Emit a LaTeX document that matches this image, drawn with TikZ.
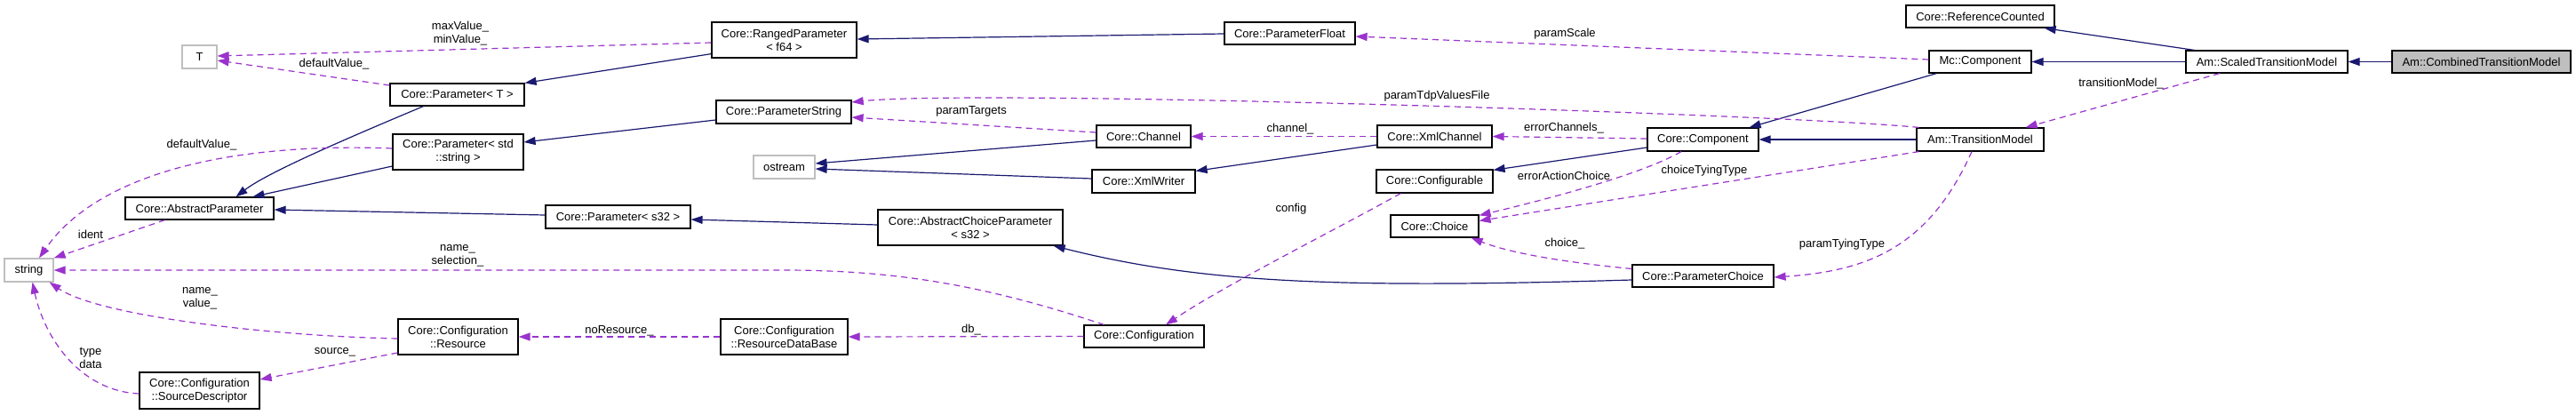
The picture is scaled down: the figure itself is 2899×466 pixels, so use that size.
\documentclass[tikz,border=0pt]{standalone}
\usepackage{fontspec}
\setmainfont{Liberation Sans}
\usetikzlibrary{arrows.meta}
\definecolor{navyedge}{HTML}{191970}
\definecolor{orchidedge}{HTML}{9A32CD}
\definecolor{greybox}{HTML}{BFBFBF}
\newcommand\dxfont{\fontsize{13}{15}\selectfont}
\tikzset{
  cls/.style={draw=black, line width=1.2pt, fill=white, inner sep=0pt, align=center, font=\dxfont},
  ext/.style={cls, draw=greybox},
  inh/.style={draw=navyedge, line width=1.2pt, -{Triangle[length=13pt,width=9pt]}},
  use/.style={draw=orchidedge, line width=1.2pt, dash pattern=on 7pt off 5pt, -{Triangle[length=13pt,width=9pt]}},
  elbl/.style={font=\dxfont, align=center, inner sep=0pt},
}
\begin{document}
\begin{tikzpicture}[x=1pt,y=-1pt]
\useasboundingbox (0,0) rectangle (2899,466);
% nodes
\node[ext, minimum width=39pt, minimum height=26pt] (T) at (224.5,64) {T};
\node[cls, minimum width=163pt, minimum height=40pt] (RP) at (882.5,45) {Core::RangedParameter\\< f64 >};
\node[cls, minimum width=151pt, minimum height=25pt] (PT) at (514.5,106.5) {Core::Parameter< T >};
\node[cls, minimum width=147pt, minimum height=40pt] (PS) at (515.5,171) {Core::Parameter< std\\::string >};
\node[cls, minimum width=167pt, minimum height=25pt] (AP) at (224.5,234.5) {Core::AbstractParameter};
\node[cls, minimum width=163pt, minimum height=26pt] (P32) at (695.5,244) {Core::Parameter< s32 >};
\node[ext, minimum width=55pt, minimum height=26pt] (str) at (32.5,304) {string};
\node[cls, minimum width=135pt, minimum height=40pt] (Res) at (515.5,379) {Core::Configuration\\::Resource};
\node[cls, minimum width=135pt, minimum height=41pt] (SD) at (224.5,439.5) {Core::Configuration\\::SourceDescriptor};
\node[cls, minimum width=147pt, minimum height=25pt] (PF) at (1451.5,37.5) {Core::ParameterFloat};
\node[cls, minimum width=152pt, minimum height=26pt] (PStr) at (882,126) {Core::ParameterString};
\node[cls, minimum width=106pt, minimum height=25pt] (Ch) at (1287,153.5) {Core::Channel};
\node[ext, minimum width=69pt, minimum height=26pt] (os) at (882.5,188) {ostream};
\node[cls, minimum width=116pt, minimum height=26pt] (XW) at (1287,204) {Core::XmlWriter};
\node[cls, minimum width=208pt, minimum height=40pt] (ACP) at (1092,256) {Core::AbstractChoiceParameter\\< s32 >};
\node[cls, minimum width=143pt, minimum height=40pt] (RDB) at (882.5,379) {Core::Configuration\\::ResourceDataBase};
\node[cls, minimum width=135pt, minimum height=25pt] (Conf) at (1287.5,378.5) {Core::Configuration};
\node[cls, minimum width=129pt, minimum height=25pt] (XC) at (1614.5,153.5) {Core::XmlChannel};
\node[cls, minimum width=125pt, minimum height=26pt] (Comp) at (1916.5,157) {Core::Component};
\node[cls, minimum width=131pt, minimum height=26pt] (Cfg) at (1614.5,204) {Core::Configurable};
\node[cls, minimum width=99pt, minimum height=25pt] (Cho) at (1614.5,254.5) {Core::Choice};
\node[cls, minimum width=159pt, minimum height=25pt] (PC) at (1916.5,310.5) {Core::ParameterChoice};
\node[cls, minimum width=167pt, minimum height=25pt] (RC) at (2228.5,18.5) {Core::ReferenceCounted};
\node[cls, minimum width=115pt, minimum height=25pt] (MC) at (2228.5,69.5) {Mc::Component};
\node[cls, minimum width=143pt, minimum height=26pt] (TM) at (2228.5,157) {Am::TransitionModel};
\node[cls, minimum width=182pt, minimum height=25pt] (STM) at (2551,69.5) {Am::ScaledTransitionModel};
\node[cls, fill=greybox, minimum width=201pt, minimum height=25pt] (CTM) at (2792.5,69.5) {Am::CombinedTransitionModel};
% inheritance edges
\draw[inh] (CTM.west) -- (STM.east);
\draw[inh] (STM.west) -- (MC.east);
\draw[inh] ([xshift=10pt]STM.north west) -- ([xshift=-12pt]RC.south east);
\draw[inh] ([xshift=9pt]MC.south west) -- ([xshift=-11pt]Comp.north east);
\draw[inh] (TM.west) -- (Comp.east);
\draw[inh] ([yshift=-9pt]Comp.west) -- ([yshift=-1pt]Cfg.north east);
\draw[inh] ([yshift=-9.5pt]XC.west) -- ([yshift=-2pt]XW.north east);
\draw[inh] ([yshift=-4.5pt]Ch.west) -- ([yshift=4pt]os.east);
\draw[inh] ([yshift=3pt]XW.west) -- ([yshift=-2pt]os.east);
\draw[inh] ([yshift=-0.5pt]PF.west) -- ([yshift=1pt]RP.east);
\draw[inh] ([yshift=5pt]RP.south west) -- (PT.north east);
\draw[inh] ([yshift=-9pt]PStr.west) -- ([yshift=11pt]PS.east);
\draw[inh] ([xshift=-38pt]PT.south) .. controls (380,160) and (300,195) .. ([xshift=41pt]AP.north);
\draw[inh] ([yshift=-16pt]PS.west) -- ([xshift=60pt]AP.north);
\draw[inh] ([yshift=2pt]P32.west) -- ([yshift=-1.5pt]AP.east);
\draw[inh] ([yshift=3pt]ACP.west) -- ([yshift=-3pt]P32.east);
\draw[inh] ([yshift=-4.5pt]PC.west) .. controls (1500,325) and (1350,318) .. ([xshift=-11pt]ACP.south east);
% usage edges
\draw[use] ([yshift=-3pt]RP.west) -- ([yshift=1pt]T.east);
\node[elbl] (l1) at (518,38) {maxValue\_\\minValue\_};
\draw[use] ([yshift=10.5pt]PT.west) -- ([yshift=-4pt]T.east);
\node[elbl] (l2) at (376,72) {defaultValue\_};
\draw[use] ([yshift=4pt]PS.west) .. controls (260,160) and (110,195) .. ([xshift=11.5pt]str.north);
\node[elbl] (l3) at (227,163) {defaultValue\_};
\draw[use] ([xshift=-39pt]AP.south) -- (str.north east);
\node[elbl] (l4) at (102,264) {ident};
\draw[use] ([xshift=23pt]Conf.north west) .. controls (1100,318) and (1000,304) .. (880,304) -- (str.east);
\node[elbl] (l5) at (515,288) {name\_\\selection\_};
\draw[use] ([yshift=-2pt]Res.west) .. controls (300,378) and (110,355) .. ([xshift=-5pt]str.south east);
\node[elbl] (l6) at (225,336) {name\_\\value\_};
\draw[use] ([yshift=-3.5pt]SD.west) .. controls (90,440) and (50,380) .. ([xshift=4pt]str.south);
\node[elbl] (l7) at (102,403) {type\\data};
\draw[use] ([yshift=-18pt]Res.west) -- ([yshift=12.5pt]SD.east);
\node[elbl] (l8) at (377,396) {source\_};
\draw[use] (RDB.west) -- (Res.east);
\node[elbl] (l9) at (697,372) {noResource\_};
\draw[use] (Conf.west) -- (RDB.east);
\node[elbl] (l10) at (1093,371) {db\_};
\draw[use] ([xshift=28pt]Cfg.south west) .. controls (1500,260) and (1380,320) .. ([xshift=24.5pt]Conf.north);
\node[elbl] (l11) at (1453,235) {config};
\draw[use] ([yshift=4.5pt]Ch.west) -- ([yshift=-6pt]PStr.east);
\node[elbl] (l12) at (1093,125) {paramTargets};
\draw[use] ([xshift=3pt]TM.north west) .. controls (2000,128) and (1100,100) .. ([yshift=11pt]PStr.east);
\node[elbl] (l13) at (1617,108) {paramTdpValuesFile};
\draw[use] (XC.west) -- (Ch.east);
\node[elbl] (l14) at (1452,145) {channel\_};
\draw[use] ([yshift=1pt]Comp.west) -- (XC.east);
\node[elbl] (l15) at (1760,144) {errorChannels\_};
\draw[use] ([xshift=-24.5pt]Comp.south) .. controls (1850,195) and (1750,222) .. ([yshift=-1pt]Cho.north east);
\node[elbl] (l16) at (1760,198) {errorActionChoice};
\draw[use] ([xshift=3pt]TM.south west) -- ([yshift=6pt]Cho.east);
\node[elbl] (l17) at (1918,192) {choiceTyingType};
\draw[use] ([yshift=8pt]PC.west) .. controls (1760,295) and (1700,285) .. ([xshift=-9pt]Cho.south east);
\node[elbl] (l18) at (1761,274) {choice\_};
\draw[use] ([xshift=-9.5pt]TM.south) .. controls (2170,280) and (2100,305) .. ([yshift=-1.5pt]PC.east);
\node[elbl] (l19) at (2073,275) {paramTyingType};
\draw[use] ([xshift=-53pt]STM.south) -- ([xshift=-21pt]TM.north east);
\node[elbl] (l20) at (2387,94) {transitionModel\_};
\draw[use] ([yshift=2.5pt]MC.west) -- ([yshift=-3.5pt]PF.east);
\node[elbl] (l21) at (1761,38) {paramScale};
\end{tikzpicture}
\end{document}
